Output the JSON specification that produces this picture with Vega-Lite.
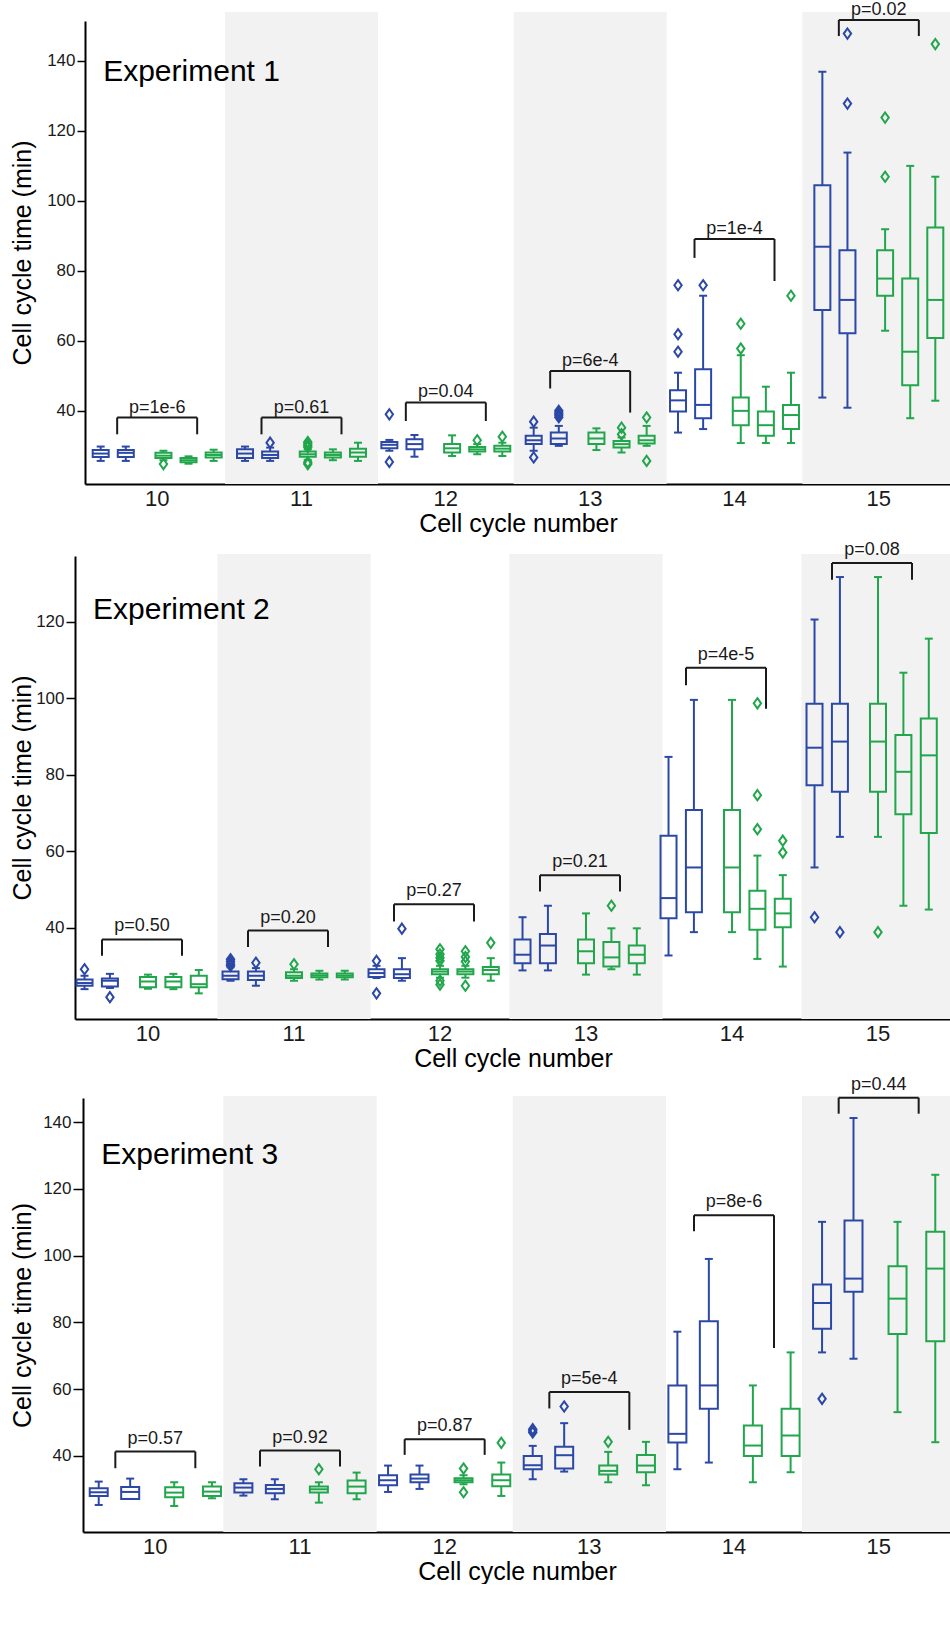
{
"$schema": "https://vega.github.io/schema/vega-lite/v6.json",
"padding": {"left": 10, "top": 0, "right": 0, "bottom": 0},
"spacing": 4,
"resolve": {"scale": {"xOffset": "independent"}},
"config": {
 "font": "Liberation Sans",
 "view": {"stroke": null},
 "axis": {"domainColor": "#000", "domainWidth": 2, "tickColor": "#000", "labelColor": "#1a1a1a", "titleColor": "#000", "titleFontWeight": "normal", "grid": false},
 "axisX": {"labelFontSize": 22, "titleFontSize": 25, "labelAngle": 0, "ticks": false, "labelPadding": 4, "titlePadding": 2},
 "axisY": {"labelFontSize": 17, "titleFontSize": 25, "tickWidth": 1.5, "labelPadding": 2},
 "tick": {"opacity": 1},
 "point": {"opacity": 1}
},
"datasets": {
 "bands": [{"cycle": 11}, {"cycle": 13}, {"cycle": 15}],
 "boxes": [
  {"e":1,"cycle":10,"s":"B1","lo":25.7,"q1":26.8,"med":27.8,"q3":28.8,"hi":29.8},
  {"e":1,"cycle":10,"s":"B2","lo":25.7,"q1":26.8,"med":28.0,"q3":28.8,"hi":29.8},
  {"e":1,"cycle":10,"s":"G1","lo":25.9,"q1":26.5,"med":27.2,"q3":28.0,"hi":28.6},
  {"e":1,"cycle":10,"s":"G2","lo":24.9,"q1":25.3,"med":25.9,"q3":26.5,"hi":27.0},
  {"e":1,"cycle":10,"s":"G3","lo":25.7,"q1":26.7,"med":27.4,"q3":28.1,"hi":28.9},
  {"e":1,"cycle":11,"s":"B1","lo":25.7,"q1":26.5,"med":27.8,"q3":29.0,"hi":29.8},
  {"e":1,"cycle":11,"s":"B2","lo":25.7,"q1":26.5,"med":27.4,"q3":28.4,"hi":29.5},
  {"e":1,"cycle":11,"s":"G1","lo":26.0,"q1":26.9,"med":27.6,"q3":28.4,"hi":29.0},
  {"e":1,"cycle":11,"s":"G2","lo":25.9,"q1":26.7,"med":27.4,"q3":28.1,"hi":29.0},
  {"e":1,"cycle":11,"s":"G3","lo":25.7,"q1":26.9,"med":28.1,"q3":29.2,"hi":30.9},
  {"e":1,"cycle":12,"s":"B1","lo":28.6,"q1":29.3,"med":30.3,"q3":31.1,"hi":31.7},
  {"e":1,"cycle":12,"s":"B2","lo":26.9,"q1":29.0,"med":30.5,"q3":31.9,"hi":33.1},
  {"e":1,"cycle":12,"s":"G1","lo":27.1,"q1":28.1,"med":29.3,"q3":30.5,"hi":33.0},
  {"e":1,"cycle":12,"s":"G2","lo":27.6,"q1":28.4,"med":29.0,"q3":29.7,"hi":30.5},
  {"e":1,"cycle":12,"s":"G3","lo":27.1,"q1":28.4,"med":29.2,"q3":30.0,"hi":30.9},
  {"e":1,"cycle":13,"s":"B1","lo":28.6,"q1":30.5,"med":31.6,"q3":32.9,"hi":35.2},
  {"e":1,"cycle":13,"s":"B2","lo":30.0,"q1":30.5,"med":32.1,"q3":33.8,"hi":35.7},
  {"e":1,"cycle":13,"s":"G1","lo":28.8,"q1":30.5,"med":32.1,"q3":33.8,"hi":35.0},
  {"e":1,"cycle":13,"s":"G2","lo":28.1,"q1":29.5,"med":30.5,"q3":31.4,"hi":32.4},
  {"e":1,"cycle":13,"s":"G3","lo":30.0,"q1":30.7,"med":31.6,"q3":32.9,"hi":35.7},
  {"e":1,"cycle":14,"s":"B1","lo":33.8,"q1":39.8,"med":43.0,"q3":45.9,"hi":50.9},
  {"e":1,"cycle":14,"s":"B2","lo":34.8,"q1":37.9,"med":41.7,"q3":51.9,"hi":72.9},
  {"e":1,"cycle":14,"s":"G1","lo":30.8,"q1":35.9,"med":40.0,"q3":43.8,"hi":55.9},
  {"e":1,"cycle":14,"s":"G2","lo":30.8,"q1":32.9,"med":35.9,"q3":39.8,"hi":46.9},
  {"e":1,"cycle":14,"s":"G3","lo":30.8,"q1":34.8,"med":38.8,"q3":41.7,"hi":50.9},
  {"e":1,"cycle":15,"s":"B1","lo":43.8,"q1":68.8,"med":86.9,"q3":104.5,"hi":136.9},
  {"e":1,"cycle":15,"s":"B2","lo":40.9,"q1":62.2,"med":71.7,"q3":85.9,"hi":113.8},
  {"e":1,"cycle":15,"s":"G1","lo":62.9,"q1":72.9,"med":77.8,"q3":85.9,"hi":91.9},
  {"e":1,"cycle":15,"s":"G2","lo":37.9,"q1":47.3,"med":56.9,"q3":77.8,"hi":110.0},
  {"e":1,"cycle":15,"s":"G3","lo":42.9,"q1":60.8,"med":71.7,"q3":92.4,"hi":106.9},
  {"e":2,"cycle":10,"s":"B1","lo":24.0,"q1":24.9,"med":25.6,"q3":26.5,"hi":27.5},
  {"e":2,"cycle":10,"s":"B2","lo":24.3,"q1":24.7,"med":26.2,"q3":26.8,"hi":28.0},
  {"e":2,"cycle":10,"s":"G1","lo":24.1,"q1":24.5,"med":26.0,"q3":27.2,"hi":27.8},
  {"e":2,"cycle":10,"s":"G2","lo":24.0,"q1":24.5,"med":26.0,"q3":27.2,"hi":28.0},
  {"e":2,"cycle":10,"s":"G3","lo":22.9,"q1":24.5,"med":25.3,"q3":27.5,"hi":29.0},
  {"e":2,"cycle":11,"s":"B1","lo":26.2,"q1":26.6,"med":27.5,"q3":28.6,"hi":29.7},
  {"e":2,"cycle":11,"s":"B2","lo":24.9,"q1":26.4,"med":27.5,"q3":28.6,"hi":29.5},
  {"e":2,"cycle":11,"s":"G1","lo":26.2,"q1":26.9,"med":27.5,"q3":28.4,"hi":29.2},
  {"e":2,"cycle":11,"s":"G2","lo":26.5,"q1":27.1,"med":27.6,"q3":28.1,"hi":28.8},
  {"e":2,"cycle":11,"s":"G3","lo":26.5,"q1":27.1,"med":27.6,"q3":28.1,"hi":28.8},
  {"e":2,"cycle":12,"s":"B1","lo":26.9,"q1":27.2,"med":28.2,"q3":29.2,"hi":30.1},
  {"e":2,"cycle":12,"s":"B2","lo":26.2,"q1":26.9,"med":27.9,"q3":29.2,"hi":32.1},
  {"e":2,"cycle":12,"s":"G1","lo":27.0,"q1":27.9,"med":28.6,"q3":29.2,"hi":30.1},
  {"e":2,"cycle":12,"s":"G2","lo":27.0,"q1":27.9,"med":28.6,"q3":29.2,"hi":30.1},
  {"e":2,"cycle":12,"s":"G3","lo":26.2,"q1":27.9,"med":29.0,"q3":29.8,"hi":32.1},
  {"e":2,"cycle":13,"s":"B1","lo":28.9,"q1":30.8,"med":33.0,"q3":37.0,"hi":42.8},
  {"e":2,"cycle":13,"s":"B2","lo":28.9,"q1":30.8,"med":35.4,"q3":38.4,"hi":45.8},
  {"e":2,"cycle":13,"s":"G1","lo":27.8,"q1":30.8,"med":33.9,"q3":37.0,"hi":43.8},
  {"e":2,"cycle":13,"s":"G2","lo":29.2,"q1":29.9,"med":32.3,"q3":36.3,"hi":39.9},
  {"e":2,"cycle":13,"s":"G3","lo":27.8,"q1":30.8,"med":33.0,"q3":35.4,"hi":39.9},
  {"e":2,"cycle":14,"s":"B1","lo":32.8,"q1":42.5,"med":47.8,"q3":64.1,"hi":84.7},
  {"e":2,"cycle":14,"s":"B2","lo":38.9,"q1":44.1,"med":55.8,"q3":70.8,"hi":99.6},
  {"e":2,"cycle":14,"s":"G1","lo":38.9,"q1":44.1,"med":55.8,"q3":70.8,"hi":99.6},
  {"e":2,"cycle":14,"s":"G2","lo":31.9,"q1":39.5,"med":45.0,"q3":49.7,"hi":58.9},
  {"e":2,"cycle":14,"s":"G3","lo":29.9,"q1":40.2,"med":43.8,"q3":47.6,"hi":53.8},
  {"e":2,"cycle":15,"s":"B1","lo":55.8,"q1":77.3,"med":87.1,"q3":98.6,"hi":120.6},
  {"e":2,"cycle":15,"s":"B2","lo":63.8,"q1":75.6,"med":88.7,"q3":98.6,"hi":131.7},
  {"e":2,"cycle":15,"s":"G1","lo":63.8,"q1":75.6,"med":88.7,"q3":98.6,"hi":131.7},
  {"e":2,"cycle":15,"s":"G2","lo":45.8,"q1":69.7,"med":80.8,"q3":90.4,"hi":106.7},
  {"e":2,"cycle":15,"s":"G3","lo":44.8,"q1":64.8,"med":85.1,"q3":94.7,"hi":115.6},
  {"e":3,"cycle":10,"s":"B1","lo":25.3,"q1":28.0,"med":29.1,"q3":30.3,"hi":32.3},
  {"e":3,"cycle":10,"s":"B2","lo":27.1,"q1":27.1,"med":29.2,"q3":30.7,"hi":33.2},
  {"e":3,"cycle":10,"s":"G1","lo":25.0,"q1":27.6,"med":29.0,"q3":30.6,"hi":32.1},
  {"e":3,"cycle":10,"s":"G2","lo":27.3,"q1":28.0,"med":29.3,"q3":30.8,"hi":32.1},
  {"e":3,"cycle":11,"s":"B1","lo":28.1,"q1":29.0,"med":30.5,"q3":31.8,"hi":33.0},
  {"e":3,"cycle":11,"s":"B2","lo":27.0,"q1":28.8,"med":30.1,"q3":31.3,"hi":33.0},
  {"e":3,"cycle":11,"s":"G1","lo":26.0,"q1":29.0,"med":30.0,"q3":30.8,"hi":32.1},
  {"e":3,"cycle":11,"s":"G2","lo":27.0,"q1":28.8,"med":30.8,"q3":32.6,"hi":35.0},
  {"e":3,"cycle":12,"s":"B1","lo":29.2,"q1":31.2,"med":32.7,"q3":34.2,"hi":37.1},
  {"e":3,"cycle":12,"s":"B2","lo":30.1,"q1":32.1,"med":33.2,"q3":34.4,"hi":37.1},
  {"e":3,"cycle":12,"s":"G1","lo":31.5,"q1":32.1,"med":32.7,"q3":33.3,"hi":34.2},
  {"e":3,"cycle":12,"s":"G2","lo":28.0,"q1":30.9,"med":32.7,"q3":34.4,"hi":38.0},
  {"e":3,"cycle":13,"s":"B1","lo":33.0,"q1":36.0,"med":37.2,"q3":40.0,"hi":43.0},
  {"e":3,"cycle":13,"s":"B2","lo":35.3,"q1":36.2,"med":40.2,"q3":42.7,"hi":49.8},
  {"e":3,"cycle":13,"s":"G1","lo":32.1,"q1":34.4,"med":35.5,"q3":37.1,"hi":41.2},
  {"e":3,"cycle":13,"s":"G2","lo":31.2,"q1":35.1,"med":37.1,"q3":40.3,"hi":44.2},
  {"e":3,"cycle":14,"s":"B1","lo":36.0,"q1":44.0,"med":46.6,"q3":61.1,"hi":77.2},
  {"e":3,"cycle":14,"s":"B2","lo":38.0,"q1":54.1,"med":61.1,"q3":80.3,"hi":99.0},
  {"e":3,"cycle":14,"s":"G1","lo":32.1,"q1":40.0,"med":43.1,"q3":49.1,"hi":61.1},
  {"e":3,"cycle":14,"s":"G2","lo":35.1,"q1":40.0,"med":46.1,"q3":54.1,"hi":71.0},
  {"e":3,"cycle":15,"s":"B1","lo":71.0,"q1":78.1,"med":85.8,"q3":91.3,"hi":110.1},
  {"e":3,"cycle":15,"s":"B2","lo":69.1,"q1":89.2,"med":93.1,"q3":110.5,"hi":141.2},
  {"e":3,"cycle":15,"s":"G1","lo":53.1,"q1":76.5,"med":87.1,"q3":96.8,"hi":110.1},
  {"e":3,"cycle":15,"s":"G2","lo":44.1,"q1":74.3,"med":96.1,"q3":107.1,"hi":124.2}
 ],
 "outliers": [
  {"e":1,"cycle":10,"s":"G1","v":24.8},
  {"e":1,"cycle":11,"s":"B2","v":30.9},
  {"e":1,"cycle":11,"s":"G1","v":29.6},{"e":1,"cycle":11,"s":"G1","v":30.1},{"e":1,"cycle":11,"s":"G1","v":30.6},{"e":1,"cycle":11,"s":"G1","v":31.1},{"e":1,"cycle":11,"s":"G1","v":25.3},{"e":1,"cycle":11,"s":"G1","v":24.8},
  {"e":1,"cycle":12,"s":"B1","v":39.0},{"e":1,"cycle":12,"s":"B1","v":25.4},
  {"e":1,"cycle":12,"s":"G2","v":31.6},{"e":1,"cycle":12,"s":"G3","v":32.6},
  {"e":1,"cycle":13,"s":"B1","v":36.9},{"e":1,"cycle":13,"s":"B1","v":26.7},
  {"e":1,"cycle":13,"s":"B2","v":38.2},{"e":1,"cycle":13,"s":"B2","v":38.8},{"e":1,"cycle":13,"s":"B2","v":39.4},{"e":1,"cycle":13,"s":"B2","v":40.0},
  {"e":1,"cycle":13,"s":"G2","v":33.3},{"e":1,"cycle":13,"s":"G2","v":35.2},
  {"e":1,"cycle":13,"s":"G3","v":38.1},{"e":1,"cycle":13,"s":"G3","v":25.7},
  {"e":1,"cycle":14,"s":"B1","v":56.9},{"e":1,"cycle":14,"s":"B1","v":61.9},{"e":1,"cycle":14,"s":"B1","v":75.9},
  {"e":1,"cycle":14,"s":"B2","v":75.9},
  {"e":1,"cycle":14,"s":"G1","v":57.8},{"e":1,"cycle":14,"s":"G1","v":64.9},
  {"e":1,"cycle":14,"s":"G3","v":72.9},
  {"e":1,"cycle":15,"s":"B2","v":127.8},{"e":1,"cycle":15,"s":"B2","v":147.8},
  {"e":1,"cycle":15,"s":"G1","v":106.9},{"e":1,"cycle":15,"s":"G1","v":123.8},
  {"e":1,"cycle":15,"s":"G3","v":144.8},
  {"e":2,"cycle":10,"s":"B1","v":29.2},{"e":2,"cycle":10,"s":"B2","v":21.9},
  {"e":2,"cycle":11,"s":"B1","v":30.1},{"e":2,"cycle":11,"s":"B1","v":30.6},{"e":2,"cycle":11,"s":"B1","v":31.2},{"e":2,"cycle":11,"s":"B1","v":31.8},
  {"e":2,"cycle":11,"s":"B2","v":30.9},{"e":2,"cycle":11,"s":"G1","v":30.5},
  {"e":2,"cycle":12,"s":"B1","v":31.4},{"e":2,"cycle":12,"s":"B1","v":22.9},
  {"e":2,"cycle":12,"s":"B2","v":39.8},
  {"e":2,"cycle":12,"s":"G1","v":31.4},{"e":2,"cycle":12,"s":"G1","v":32.2},{"e":2,"cycle":12,"s":"G1","v":33.1},{"e":2,"cycle":12,"s":"G1","v":34.4},{"e":2,"cycle":12,"s":"G1","v":26.2},{"e":2,"cycle":12,"s":"G1","v":25.2},
  {"e":2,"cycle":12,"s":"G2","v":31.2},{"e":2,"cycle":12,"s":"G2","v":32.4},{"e":2,"cycle":12,"s":"G2","v":33.9},{"e":2,"cycle":12,"s":"G2","v":24.9},
  {"e":2,"cycle":12,"s":"G3","v":36.1},
  {"e":2,"cycle":13,"s":"G2","v":45.8},
  {"e":2,"cycle":14,"s":"G2","v":65.8},{"e":2,"cycle":14,"s":"G2","v":74.7},{"e":2,"cycle":14,"s":"G2","v":98.7},
  {"e":2,"cycle":14,"s":"G3","v":59.7},{"e":2,"cycle":14,"s":"G3","v":62.8},
  {"e":2,"cycle":15,"s":"B1","v":42.8},{"e":2,"cycle":15,"s":"B2","v":38.9},{"e":2,"cycle":15,"s":"G1","v":38.9},
  {"e":3,"cycle":11,"s":"G1","v":36.0},
  {"e":3,"cycle":12,"s":"G1","v":36.2},{"e":3,"cycle":12,"s":"G1","v":29.1},{"e":3,"cycle":12,"s":"G2","v":43.9},
  {"e":3,"cycle":13,"s":"B1","v":47.0},{"e":3,"cycle":13,"s":"B1","v":47.5},{"e":3,"cycle":13,"s":"B1","v":48.0},
  {"e":3,"cycle":13,"s":"B2","v":54.8},{"e":3,"cycle":13,"s":"G1","v":44.2},
  {"e":3,"cycle":15,"s":"B1","v":57.1}
 ],
 "brackets": [
  {"e":1,"cycle":10,"p":"p=1e-6","top":38.1,"lb":33.3,"rb":33.3},
  {"e":1,"cycle":11,"p":"p=0.61","top":38.1,"lb":33.3,"rb":33.3},
  {"e":1,"cycle":12,"p":"p=0.04","top":42.4,"lb":37.1,"rb":37.1},
  {"e":1,"cycle":13,"p":"p=6e-4","top":51.4,"lb":46.4,"rb":39.5},
  {"e":1,"cycle":14,"p":"p=1e-4","top":89.1,"lb":83.7,"rb":77.1},
  {"e":1,"cycle":15,"p":"p=0.02","top":151.7,"lb":147.1,"rb":147.1},
  {"e":2,"cycle":10,"p":"p=0.50","top":37.0,"lb":32.7,"rb":32.7},
  {"e":2,"cycle":11,"p":"p=0.20","top":39.3,"lb":35.0,"rb":35.0},
  {"e":2,"cycle":12,"p":"p=0.27","top":46.2,"lb":41.7,"rb":41.7},
  {"e":2,"cycle":13,"p":"p=0.21","top":53.8,"lb":49.5,"rb":49.5},
  {"e":2,"cycle":14,"p":"p=4e-5","top":108.0,"lb":103.4,"rb":97.3},
  {"e":2,"cycle":15,"p":"p=0.08","top":135.4,"lb":131.0,"rb":131.0},
  {"e":3,"cycle":10,"p":"p=0.57","top":41.3,"lb":36.3,"rb":36.3},
  {"e":3,"cycle":11,"p":"p=0.92","top":41.6,"lb":36.8,"rb":36.8},
  {"e":3,"cycle":12,"p":"p=0.87","top":45.0,"lb":40.3,"rb":40.3},
  {"e":3,"cycle":13,"p":"p=5e-4","top":59.1,"lb":54.2,"rb":47.8},
  {"e":3,"cycle":14,"p":"p=8e-6","top":112.1,"lb":107.3,"rb":72.3},
  {"e":3,"cycle":15,"p":"p=0.44","top":147.3,"lb":142.5,"rb":142.5}
 ]
},
"vconcat": [
 {
  "width": 866, "height": 463,
  "encoding": {"x": {"field": "cycle", "type": "ordinal", "scale": {"type": "band", "domain": [10,11,12,13,14,15], "paddingInner": 0, "paddingOuter": 0}, "axis": {"title": "Cell cycle number"}}},
  "layer": [
   {"data": {"name": "bands"}, "mark": {"type": "bar", "width": {"band": 1.06}, "color": "#f2f2f2"},
    "encoding": {"y": {"datum": 19.1, "type": "quantitative", "title": "Cell cycle time (min)", "scale": {"domain": [19.1, 151.4], "nice": false, "zero": false}, "axis": {"values": [40,60,80,100,120,140], "titlePadding": 11, "tickSize": 8}}, "y2": {"datum": 154}}},
   {"data": {"name": "boxes"}, "transform": [{"filter": "datum.e == 1"}],
    "encoding": {
     "xOffset": {"field": "s", "type": "nominal", "scale": {"domain": ["_0","B1","_2","_3","_4","B2","_6","_7","_8","_9","_10","G1","_12","_13","_14","G2","_16","_17","_18","G3","_20"], "paddingInner": 0, "paddingOuter": 3.93}},
     "color": {"field": "s", "type": "nominal", "scale": {"domain": ["B1","B2","G1","G2","G3"], "range": ["#2b48a6","#2b48a6","#21a64c","#21a64c","#21a64c"]}, "legend": null}},
    "layer": [
     {"mark": {"type": "rule", "strokeWidth": 2}, "encoding": {"y": {"field": "lo", "type": "quantitative", "title": "Cell cycle time (min)"}, "y2": {"field": "q1"}}},
     {"mark": {"type": "rule", "strokeWidth": 2}, "encoding": {"y": {"field": "q3", "type": "quantitative", "title": "Cell cycle time (min)"}, "y2": {"field": "hi"}}},
     {"mark": {"type": "tick", "size": 8, "thickness": 2}, "encoding": {"y": {"field": "lo", "type": "quantitative", "title": "Cell cycle time (min)"}}},
     {"mark": {"type": "tick", "size": 8, "thickness": 2}, "encoding": {"y": {"field": "hi", "type": "quantitative", "title": "Cell cycle time (min)"}}},
     {"mark": {"type": "bar", "width": 16, "filled": false, "strokeWidth": 2}, "encoding": {"y": {"field": "q1", "type": "quantitative", "title": "Cell cycle time (min)"}, "y2": {"field": "q3"}}},
     {"mark": {"type": "tick", "size": 16, "thickness": 2}, "encoding": {"y": {"field": "med", "type": "quantitative", "title": "Cell cycle time (min)"}}}
    ]},
   {"data": {"name": "outliers"}, "transform": [{"filter": "datum.e == 1"}],
    "mark": {"type": "point", "shape": "M0,-1L0.72,0L0,1L-0.72,0Z", "size": 105, "filled": false, "strokeWidth": 2},
    "encoding": {
     "xOffset": {"field": "s", "type": "nominal"},
     "color": {"field": "s", "type": "nominal", "legend": null},
     "y": {"field": "v", "type": "quantitative", "title": "Cell cycle time (min)"}}},
   {"data": {"name": "brackets"}, "transform": [{"filter": "datum.e == 1"}],
    "layer": [
     {"mark": {"type": "tick", "size": 80, "thickness": 2, "color": "#1a1a1a"}, "encoding": {"y": {"field": "top", "type": "quantitative", "title": "Cell cycle time (min)"}}},
     {"mark": {"type": "rule", "strokeWidth": 2, "color": "#1a1a1a", "xOffset": -40}, "encoding": {"y": {"field": "top", "type": "quantitative", "title": "Cell cycle time (min)"}, "y2": {"field": "lb"}}},
     {"mark": {"type": "rule", "strokeWidth": 2, "color": "#1a1a1a", "xOffset": 40}, "encoding": {"y": {"field": "top", "type": "quantitative", "title": "Cell cycle time (min)"}, "y2": {"field": "rb"}}},
     {"mark": {"type": "text", "fontSize": 18, "color": "#1a1a1a", "dy": -10, "baseline": "middle"}, "encoding": {"y": {"field": "top", "type": "quantitative", "title": "Cell cycle time (min)"}, "text": {"field": "p"}}}
    ]},
   {"data": {"values": [{"t": "Experiment 1"}]}, "mark": {"type": "text", "fontSize": 30, "align": "left", "baseline": "middle", "dx": -54, "color": "#000"},
    "encoding": {"x": {"datum": 10, "type": "ordinal"}, "y": {"datum": 136.9, "type": "quantitative", "title": "Cell cycle time (min)"}, "text": {"field": "t"}}}
  ]
 },
 {
  "width": 866, "height": 463,
  "encoding": {"x": {"field": "cycle", "type": "ordinal", "scale": {"type": "band", "domain": [10,11,12,13,14,15], "range": [-10, 866], "paddingInner": 0, "paddingOuter": 0}, "axis": {"title": "Cell cycle number"}}},
  "layer": [
   {"data": {"name": "bands"}, "mark": {"type": "bar", "width": {"band": 1.05}, "color": "#f2f2f2"},
    "encoding": {"y": {"datum": 16.2, "type": "quantitative", "title": "Cell cycle time (min)", "scale": {"domain": [16.2, 137.2], "nice": false, "zero": false}, "axis": {"values": [40,60,80,100,120], "titlePadding": 0, "tickSize": 9, "offset": 10}}, "y2": {"datum": 137.7}}},
   {"data": {"name": "boxes"}, "transform": [{"filter": "datum.e == 2"}],
    "encoding": {
     "xOffset": {"field": "s", "type": "nominal", "scale": {"domain": ["B1","_1","_2","_3","B2","_5","_6","_7","_8","_9","G1","_11","_12","_13","G2","_15","_16","_17","G3","_19","_20"], "paddingInner": 0, "paddingOuter": 4.1}},
     "color": {"field": "s", "type": "nominal", "legend": null}},
    "layer": [
     {"mark": {"type": "rule", "strokeWidth": 2}, "encoding": {"y": {"field": "lo", "type": "quantitative", "title": "Cell cycle time (min)"}, "y2": {"field": "q1"}}},
     {"mark": {"type": "rule", "strokeWidth": 2}, "encoding": {"y": {"field": "q3", "type": "quantitative", "title": "Cell cycle time (min)"}, "y2": {"field": "hi"}}},
     {"mark": {"type": "tick", "size": 8, "thickness": 2}, "encoding": {"y": {"field": "lo", "type": "quantitative", "title": "Cell cycle time (min)"}}},
     {"mark": {"type": "tick", "size": 8, "thickness": 2}, "encoding": {"y": {"field": "hi", "type": "quantitative", "title": "Cell cycle time (min)"}}},
     {"mark": {"type": "bar", "width": 16, "filled": false, "strokeWidth": 2}, "encoding": {"y": {"field": "q1", "type": "quantitative", "title": "Cell cycle time (min)"}, "y2": {"field": "q3"}}},
     {"mark": {"type": "tick", "size": 16, "thickness": 2}, "encoding": {"y": {"field": "med", "type": "quantitative", "title": "Cell cycle time (min)"}}}
    ]},
   {"data": {"name": "outliers"}, "transform": [{"filter": "datum.e == 2"}],
    "mark": {"type": "point", "shape": "M0,-1L0.72,0L0,1L-0.72,0Z", "size": 105, "filled": false, "strokeWidth": 2},
    "encoding": {
     "xOffset": {"field": "s", "type": "nominal"},
     "color": {"field": "s", "type": "nominal", "legend": null},
     "y": {"field": "v", "type": "quantitative", "title": "Cell cycle time (min)"}}},
   {"data": {"name": "brackets"}, "transform": [{"filter": "datum.e == 2"}],
    "layer": [
     {"mark": {"type": "tick", "size": 80, "thickness": 2, "color": "#1a1a1a", "xOffset": -6}, "encoding": {"y": {"field": "top", "type": "quantitative", "title": "Cell cycle time (min)"}}},
     {"mark": {"type": "rule", "strokeWidth": 2, "color": "#1a1a1a", "xOffset": -46}, "encoding": {"y": {"field": "top", "type": "quantitative", "title": "Cell cycle time (min)"}, "y2": {"field": "lb"}}},
     {"mark": {"type": "rule", "strokeWidth": 2, "color": "#1a1a1a", "xOffset": 34}, "encoding": {"y": {"field": "top", "type": "quantitative", "title": "Cell cycle time (min)"}, "y2": {"field": "rb"}}},
     {"mark": {"type": "text", "fontSize": 18, "color": "#1a1a1a", "dy": -13, "dx": -6, "baseline": "middle"}, "encoding": {"y": {"field": "top", "type": "quantitative", "title": "Cell cycle time (min)"}, "text": {"field": "p"}}}
    ]},
   {"data": {"values": [{"t": "Experiment 2"}]}, "mark": {"type": "text", "fontSize": 30, "align": "left", "baseline": "middle", "dx": -55, "color": "#000"},
    "encoding": {"x": {"datum": 10, "type": "ordinal"}, "y": {"datum": 123.2, "type": "quantitative", "title": "Cell cycle time (min)"}, "text": {"field": "t"}}}
  ]
 },
 {
  "width": 866, "height": 434,
  "encoding": {"x": {"field": "cycle", "type": "ordinal", "scale": {"type": "band", "domain": [10,11,12,13,14,15], "range": [-2, 866], "paddingInner": 0, "paddingOuter": 0}, "axis": {"title": "Cell cycle number"}}},
  "layer": [
   {"data": {"name": "bands"}, "mark": {"type": "bar", "width": {"band": 1.06}, "color": "#f2f2f2"},
    "encoding": {"y": {"datum": 17.2, "type": "quantitative", "title": "Cell cycle time (min)", "scale": {"domain": [17.2, 147.2], "nice": false, "zero": false}, "axis": {"values": [40,60,80,100,120,140], "titlePadding": 7, "tickSize": 10, "offset": 2}}, "y2": {"datum": 147.8}}},
   {"data": {"name": "boxes"}, "transform": [{"filter": "datum.e == 3"}],
    "encoding": {
     "xOffset": {"field": "s", "type": "nominal", "scale": {"domain": ["_0","B1","_2","_3","_4","_5","B2","_7","_8","_9","_10","_11","_12","G1","_14","_15","_16","_17","_18","G2","_20"], "paddingInner": 0, "paddingOuter": 3.97}},
     "color": {"field": "s", "type": "nominal", "legend": null}},
    "layer": [
     {"mark": {"type": "rule", "strokeWidth": 2}, "encoding": {"y": {"field": "lo", "type": "quantitative", "title": "Cell cycle time (min)"}, "y2": {"field": "q1"}}},
     {"mark": {"type": "rule", "strokeWidth": 2}, "encoding": {"y": {"field": "q3", "type": "quantitative", "title": "Cell cycle time (min)"}, "y2": {"field": "hi"}}},
     {"mark": {"type": "tick", "size": 8, "thickness": 2}, "encoding": {"y": {"field": "lo", "type": "quantitative", "title": "Cell cycle time (min)"}}},
     {"mark": {"type": "tick", "size": 8, "thickness": 2}, "encoding": {"y": {"field": "hi", "type": "quantitative", "title": "Cell cycle time (min)"}}},
     {"mark": {"type": "bar", "width": 18, "filled": false, "strokeWidth": 2}, "encoding": {"y": {"field": "q1", "type": "quantitative", "title": "Cell cycle time (min)"}, "y2": {"field": "q3"}}},
     {"mark": {"type": "tick", "size": 18, "thickness": 2}, "encoding": {"y": {"field": "med", "type": "quantitative", "title": "Cell cycle time (min)"}}}
    ]},
   {"data": {"name": "outliers"}, "transform": [{"filter": "datum.e == 3"}],
    "mark": {"type": "point", "shape": "M0,-1L0.72,0L0,1L-0.72,0Z", "size": 105, "filled": false, "strokeWidth": 2},
    "encoding": {
     "xOffset": {"field": "s", "type": "nominal"},
     "color": {"field": "s", "type": "nominal", "legend": null},
     "y": {"field": "v", "type": "quantitative", "title": "Cell cycle time (min)"}}},
   {"data": {"name": "brackets"}, "transform": [{"filter": "datum.e == 3"}],
    "layer": [
     {"mark": {"type": "tick", "size": 80, "thickness": 2, "color": "#1a1a1a"}, "encoding": {"y": {"field": "top", "type": "quantitative", "title": "Cell cycle time (min)"}}},
     {"mark": {"type": "rule", "strokeWidth": 2, "color": "#1a1a1a", "xOffset": -40}, "encoding": {"y": {"field": "top", "type": "quantitative", "title": "Cell cycle time (min)"}, "y2": {"field": "lb"}}},
     {"mark": {"type": "rule", "strokeWidth": 2, "color": "#1a1a1a", "xOffset": 40}, "encoding": {"y": {"field": "top", "type": "quantitative", "title": "Cell cycle time (min)"}, "y2": {"field": "rb"}}},
     {"mark": {"type": "text", "fontSize": 18, "color": "#1a1a1a", "dy": -13, "baseline": "middle"}, "encoding": {"y": {"field": "top", "type": "quantitative", "title": "Cell cycle time (min)"}, "text": {"field": "p"}}}
    ]},
   {"data": {"values": [{"t": "Experiment 3"}]}, "mark": {"type": "text", "fontSize": 30, "align": "left", "baseline": "middle", "dx": -54, "color": "#000"},
    "encoding": {"x": {"datum": 10, "type": "ordinal"}, "y": {"datum": 130, "type": "quantitative", "title": "Cell cycle time (min)"}, "text": {"field": "t"}}}
  ]
 }
]
}
